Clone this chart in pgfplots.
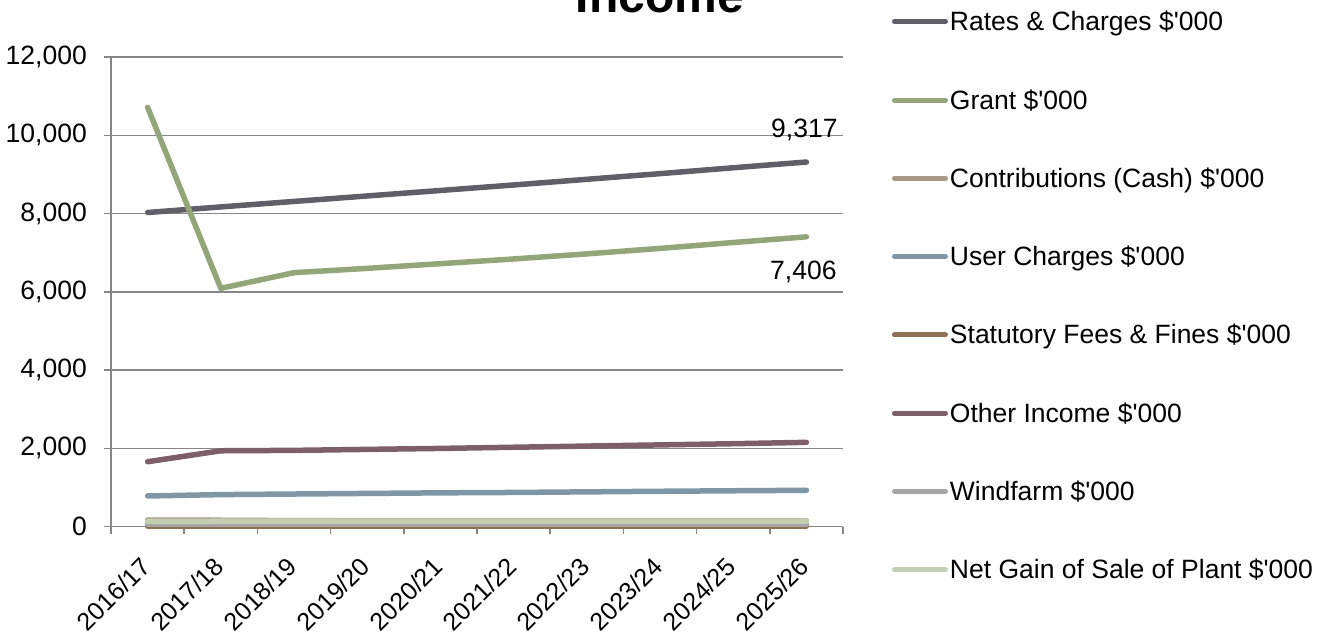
\documentclass[border=0pt]{standalone}
\usepackage{pgfplots}
\pgfplotsset{compat=1.18}
\usepackage{fontspec}
\setmainfont{Liberation Sans}
\definecolor{cRates}{RGB}{96,94,102}
\definecolor{cGrant}{RGB}{147,166,122}
\definecolor{cContr}{RGB}{168,153,132}
\definecolor{cUser}{RGB}{127,151,165}
\definecolor{cStat}{RGB}{140,113,85}
\definecolor{cOther}{RGB}{126,94,105}
\definecolor{cWind}{RGB}{165,165,165}
\definecolor{cNet}{RGB}{195,207,176}
\definecolor{gridgray}{RGB}{134,134,134}
\newcommand{\lblfont}{\fontsize{26.5}{31}\selectfont}
\newcommand{\q}{\textquotesingle}
\begin{document}
\begin{tikzpicture}[x=1pt,y=1pt]
\path[use as bounding box] (0,0) rectangle (1319,635);
\node[anchor=base, font=\fontsize{48}{56}\selectfont\bfseries] at (660,622) {Income};
\begin{axis}[
  at={(111pt,108.3pt)}, anchor=south west,
  scale only axis, width=732pt, height=469.7pt,
  xmin=-0.5, xmax=9.5, ymin=0, ymax=12000,
  clip=false,
  scaled y ticks=false,
  axis lines*=left,
  axis line style={draw=gridgray, line width=1.5pt, -},
  tick align=outside,
  major tick length=0pt, minor tick length=7.5pt,
  every tick/.style={draw=gridgray, line width=1.5pt},
  xtick={0,...,9},
  xticklabels={2016/17,2017/18,2018/19,2019/20,2020/21,2021/22,2022/23,2023/24,2024/25,2025/26},
  minor xtick={-0.5,0.5,...,9.5},
  ytick={0,2000,...,12000},
  yticklabels={0,{2,000},{4,000},{6,000},{8,000},{10,000},{12,000}},
  minor ytick={0,2000,...,12000},
  ymajorgrids,
  major grid style={draw=gridgray, line width=1.5pt},
  ticklabel style={font=\lblfont, inner sep=0pt},
  xticklabel style={font=\fontsize{25}{30}\selectfont, rotate=45, anchor=north east, xshift=-7.9pt, yshift=4.2pt},
  xticklabel shift=26pt,
  yticklabel style={anchor=east},
  yticklabel shift=24pt,
  legend style={at={(1.0669,1.0943)}, anchor=north west, draw=none, fill=none,
    inner sep=0pt, outer sep=0pt, row sep=55.3pt, column sep=2pt,
    font=\lblfont, nodes={inner sep=0pt, text height=18pt, text depth=5pt}},
  legend cell align=left,
  legend image code/.code={\draw[#1, line width=5pt, line cap=round] (2.5pt,2.5pt) -- (53.5pt,2.5pt);},
  every axis plot/.append style={line width=5.5pt, line cap=round, line join=round},
]
\addplot[cRates] coordinates {(0,8027) (1,8170) (2,8310) (3,8450) (4,8590) (5,8730) (6,8875) (7,9020) (8,9170) (9,9317)};
\addlegendentry{Rates \& Charges \$\q000}
\addplot[cGrant] coordinates {(0,10715) (1,6090) (2,6490) (3,6600) (4,6720) (5,6840) (6,6970) (7,7110) (8,7260) (9,7406)};
\addlegendentry{Grant \$\q000}
\addplot[cContr] coordinates {(0,170) (1,165) (2,155) (3,150) (4,150) (5,150) (6,150) (7,150) (8,150) (9,150)};
\addlegendentry{Contributions (Cash) \$\q000}
\addplot[cUser] coordinates {(0,785) (1,820) (2,835) (3,850) (4,865) (5,875) (6,890) (7,905) (8,918) (9,930)};
\addlegendentry{User Charges \$\q000}
\addplot[cStat] coordinates {(0,15) (1,15) (2,15) (3,15) (4,15) (5,15) (6,15) (7,15) (8,15) (9,15)};
\addlegendentry{Statutory Fees \& Fines \$\q000}
\addplot[cOther] coordinates {(0,1660) (1,1940) (2,1950) (3,1975) (4,2000) (5,2030) (6,2060) (7,2090) (8,2120) (9,2155)};
\addlegendentry{Other Income \$\q000}
\addplot[cWind] coordinates {(0,50) (1,50) (2,50) (3,50) (4,50) (5,50) (6,50) (7,50) (8,50) (9,50)};
\addlegendentry{Windfarm \$\q000}
\addplot[cNet] coordinates {(0,135) (1,140) (2,145) (3,145) (4,145) (5,145) (6,145) (7,145) (8,145) (9,145)};
\addlegendentry{Net Gain of Sale of Plant \$\q000}
\node[font=\lblfont, anchor=base, xshift=-2pt, yshift=25pt] at (axis cs:9,9317) {9,317};
\node[font=\lblfont, anchor=base, xshift=-3pt, yshift=-43pt] at (axis cs:9,7406) {7,406};
\end{axis}
\end{tikzpicture}
\end{document}
